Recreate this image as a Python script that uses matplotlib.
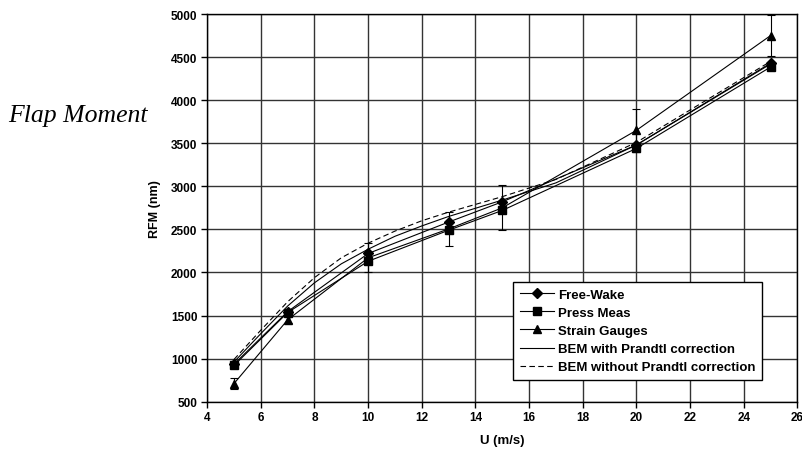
import matplotlib
matplotlib.use("Agg")
import matplotlib.pyplot as plt

# mesures
u_mes = [5, 7, 10, 13, 15, 20, 25]
free_wake = [935, 1545, 2220, 2585, 2820, 3480, 4430]
press_meas = [920, 1535, 2130, 2490, 2720, 3440, 4385]
strain = [710, 1450, 2170, 2505, 2750, 3650, 4750]
strain_err = [60, 40, 170, 195, 260, 250, 235]

# BEM
u_bem = [5, 6, 7, 8, 9, 10, 11, 12, 13, 15, 17, 20, 25]
bem_prandtl = [960, 1290, 1610, 1880, 2100, 2270, 2420, 2540, 2650, 2840, 3040, 3480, 4420]
bem_sans = [990, 1330, 1660, 1940, 2170, 2340, 2480, 2600, 2700, 2880, 3080, 3510, 4450]

x_ticks = list(range(4, 27, 2))
y_ticks = list(range(500, 5001, 500))

plt.rcParams["font.family"] = ["Liberation Sans", "DejaVu Sans"]

fig = plt.figure(figsize=(8.03, 4.56), dpi=100)
ax = fig.add_axes([0.258, 0.117, 0.735, 0.850])

lw = 0.8
ax.errorbar(u_mes, strain, yerr=strain_err, fmt="none", ecolor="black",
            elinewidth=0.8, capsize=3, capthick=0.8, zorder=3)
ax.plot(u_mes, free_wake, color="black", lw=lw, marker="D", ms=5, label="Free-Wake", zorder=4)
ax.plot(u_mes, press_meas, color="black", lw=lw, marker="s", ms=6, label="Press Meas", zorder=4)
ax.plot(u_mes, strain, color="black", lw=lw, marker="^", ms=6, label="Strain Gauges", zorder=4)
ax.plot(u_bem, bem_prandtl, color="black", lw=lw, label="BEM with Prandtl correction", zorder=3)
ax.plot(u_bem, bem_sans, color="black", lw=lw, ls=(0, (5, 3)), label="BEM without Prandtl correction", zorder=3)

ax.set_xlim(4, 26)
ax.set_ylim(500, 5000)
ax.set_xticks(x_ticks)
ax.set_yticks(y_ticks)
ax.grid(True, color="#333333", lw=1.0)
ax.set_axisbelow(True)
for s in ax.spines.values():
    s.set_linewidth(1.0)
ax.tick_params(direction="out", length=4, width=1, labelsize=8.5, pad=3)
for lab in ax.get_xticklabels() + ax.get_yticklabels():
    lab.set_fontweight("bold")

ax.set_xlabel("U (m/s)", fontsize=9.5, fontweight="bold", labelpad=8)
ax.set_ylabel("RFM (nm)", fontsize=9, fontweight="bold", labelpad=7)

fig.text(0.010, 0.745, "Flap Moment", fontsize=18.5, style="italic",
         family=["Liberation Serif", "DejaVu Serif"], va="center")

leg = ax.legend(loc="upper left", bbox_to_anchor=(0.519, 0.309),
                prop={"weight": "bold", "size": 9.5}, frameon=True, fancybox=False,
                edgecolor="black", framealpha=1, handlelength=2.6, labelspacing=0.45,
                borderpad=0.5, handletextpad=0.3, borderaxespad=0)
leg.get_frame().set_linewidth(1.0)
for h in leg.legend_handles:
    h.set_markersize(5.5)

fig.savefig("out.png", dpi=100)
